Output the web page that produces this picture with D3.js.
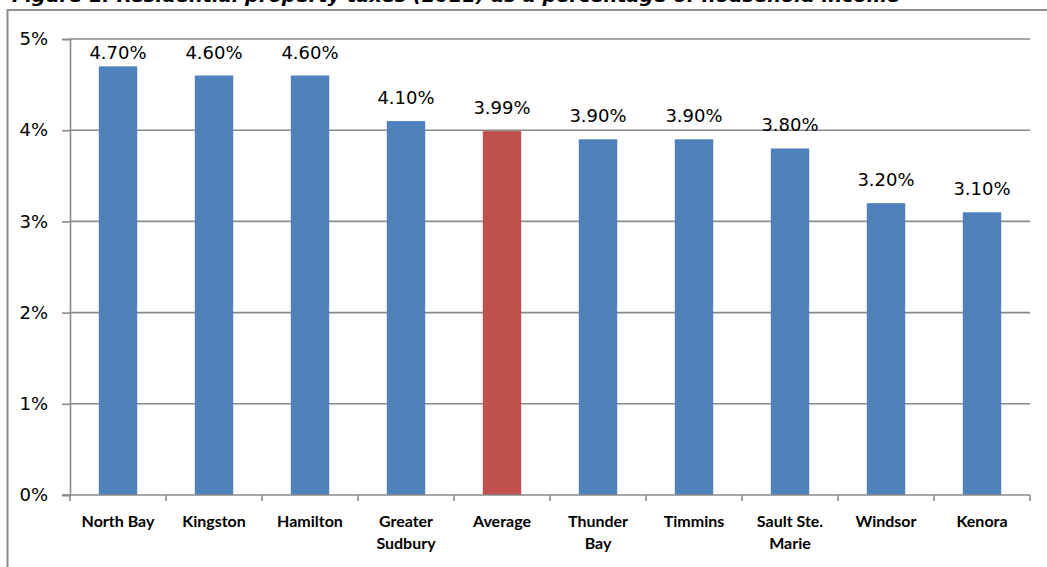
<!DOCTYPE html>
<html>
<head>
<meta charset="utf-8">
<script src="https://cdn.jsdelivr.net/npm/d3@7/dist/d3.min.js"></script>
<style>
  html, body { margin: 0; padding: 0; background: #fff; }
  svg { display: block; }
</style>
</head>
<body>
<svg id="chart" width="1047" height="567"></svg>
<script>
// Residential property taxes as a share of household income, by city
const categories = [
  ["North Bay"], ["Kingston"], ["Hamilton"], ["Greater", "Sudbury"], ["Average"],
  ["Thunder", "Bay"], ["Timmins"], ["Sault Ste.", "Marie"], ["Windsor"], ["Kenora"]
];
const values = [4.70, 4.60, 4.60, 4.10, 3.99, 3.90, 3.90, 3.80, 3.20, 3.10];
const highlight = ["Average"];
const yTicks = [0, 1, 2, 3, 4, 5];
const titleText = "Figure 1: Residential property taxes (2011) as a percentage of household income";

const W = 1047, H = 567;
const plot = { left: 70, right: 1030, top: 39, bottom: 495 };
const gridColor = "#8a8a8a";
const blue = "#4F81BD", red = "#C0504D";

const svg = d3.select("#chart");
svg.append("rect").attr("width", W).attr("height", H).attr("fill", "#fff");

const names = categories.map(c => c.join(" "));

const x = d3.scaleBand()
  .domain(names)
  .range([plot.left, plot.right])
  .paddingInner(0.6)
  .paddingOuter(0.3);

const y = d3.scaleLinear().domain([0, 5]).range([plot.bottom, plot.top]);

// Caption above the frame (mostly hidden past the top edge)
svg.append("text")
  .attr("x", 12).attr("y", 1.5)
  .attr("textLength", 888).attr("lengthAdjust", "spacingAndGlyphs")
  .style("font-family", "'DejaVu Sans', sans-serif")
  .style("font-size", "17px").style("font-weight", "bold").style("font-style", "italic")
  .attr("fill", "#000")
  .text(titleText);

// Outer frame (top and left edges)
svg.append("path")
  .attr("d", `M7.5,${H} V10 H${W}`)
  .attr("fill", "none").attr("stroke", "#8f8f8f").attr("stroke-width", 2);

// Horizontal gridlines
svg.append("g").selectAll("line")
  .data(yTicks.filter(t => t > 0))
  .join("line")
  .attr("x1", plot.left).attr("x2", plot.right)
  .attr("y1", d => y(d)).attr("y2", d => y(d))
  .attr("stroke", gridColor).attr("stroke-width", 1.6);

// Y axis
const yAxis = d3.axisLeft(y)
  .tickValues(yTicks)
  .tickFormat(d => d + "%")
  .tickSize(8)
  .tickPadding(14);

const gy = svg.append("g").attr("transform", `translate(${plot.left},0)`).call(yAxis);
gy.select(".domain").attr("stroke", gridColor).attr("stroke-width", 1.6);
gy.selectAll(".tick line").attr("stroke", gridColor).attr("stroke-width", 1.6);
gy.selectAll(".tick text")
  .style("font-family", "'DejaVu Sans', sans-serif")
  .style("font-size", "18px")
  .attr("fill", "#000");

// Bars
svg.append("g").selectAll("rect")
  .data(values)
  .join("rect")
  .attr("x", (d, i) => x(names[i]))
  .attr("width", x.bandwidth())
  .attr("y", d => y(d))
  .attr("height", d => y(0) - y(d))
  .attr("fill", (d, i) => highlight.includes(names[i]) ? red : blue);

// X axis baseline with category boundary ticks
svg.append("line")
  .attr("x1", plot.left - 8).attr("x2", plot.right)
  .attr("y1", y(0)).attr("y2", y(0))
  .attr("stroke", gridColor).attr("stroke-width", 1.6);

const step = x.step();
const boundaries = d3.range(names.length + 1).map(i => x(names[0]) - x.paddingOuter() * step + i * step);
svg.append("g").selectAll("line")
  .data(boundaries)
  .join("line")
  .attr("x1", d => d).attr("x2", d => d)
  .attr("y1", y(0)).attr("y2", y(0) + 6)
  .attr("stroke", gridColor).attr("stroke-width", 1.6);

// Category labels
const catG = svg.append("g")
  .style("font-family", "Lato, 'Open Sans', sans-serif")
  .style("font-size", "16px").style("font-weight", "bold")
  .attr("fill", "#000").attr("text-anchor", "middle");

categories.forEach((lines, i) => {
  const t = catG.append("text")
    .attr("x", x(names[i]) + x.bandwidth() / 2)
    .attr("y", 527);
  lines.forEach((ln, j) => {
    t.append("tspan")
      .attr("x", x(names[i]) + x.bandwidth() / 2)
      .attr("dy", j === 0 ? 0 : 22)
      .text(ln);
  });
});

// Value labels above the bars
svg.append("g").selectAll("text")
  .data(values)
  .join("text")
  .attr("x", (d, i) => x(names[i]) + x.bandwidth() / 2)
  .attr("y", d => Math.max(y(d) - 17, 58.5))
  .attr("text-anchor", "middle")
  .style("font-family", "'DejaVu Sans', sans-serif")
  .style("font-size", "18px")
  .attr("fill", "#000")
  .text(d => d.toFixed(2) + "%");
</script>
</body>
</html>
